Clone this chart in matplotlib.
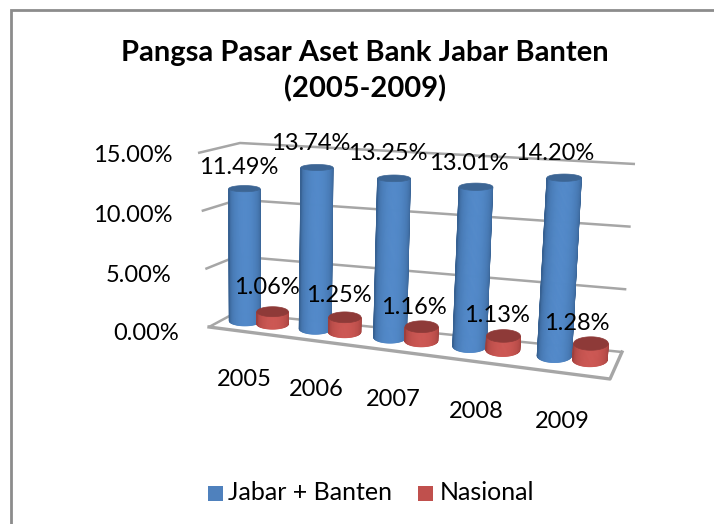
import numpy as np
import matplotlib
matplotlib.use("Agg")
import matplotlib.pyplot as plt
from matplotlib.patches import Polygon, Rectangle

years = ["2005", "2006", "2007", "2008", "2009"]
jabar_banten = [11.49, 13.74, 13.25, 13.01, 14.20]
nasional = [1.06, 1.25, 1.16, 1.13, 1.28]
value_ticks = [0, 5, 10, 15]
title_lines = "Pangsa Pasar Aset Bank Jabar Banten\n(2005-2009)"
series_names = ["Jabar + Banten", "Nasional"]

plt.rcParams['font.family'] = ['Lato', 'DejaVu Sans']
W, H = 714, 524
fig = plt.figure(figsize=(W/100, H/100), dpi=100)
ax = fig.add_axes([0, 0, 1, 1])
ax.set_xlim(0, W); ax.set_ylim(H, 0); ax.axis('off')

# corners of the 3D box in picture coordinates
C = {(0,0,0):(209,327),(1,0,0):(610,379),(0,1,0):(235,313),(1,1,0):(622,352),
     (0,0,1):(198,153),(1,0,1):(622,183),(0,1,1):(240,143),(1,1,1):(635,164)}
C = {k:np.array(v,float) for k,v in C.items()}
G = 0.17
def proj(u, w, v):
    s = u/(1+G*(1-u))
    t = v/15.0
    out = 0
    for (a,b,c),p in C.items():
        out = out + p*(s if a else 1-s)*(w if b else 1-w)*(t if c else 1-t)
    return out

GRID = '#a6a6a6'
for v in value_ticks:
    pts = np.array([proj(0,0,v),proj(0,1,v),proj(1,1,v)])
    ax.plot(pts[:,0],pts[:,1],color=GRID,lw=1.8,solid_capstyle='butt',zorder=1)
pts = np.array([proj(0,0,0),proj(1,0,0),proj(1,1,0)])
ax.plot(pts[:,0],pts[:,1],color=GRID,lw=2.4,zorder=1)

def mix(a,b,f):
    a=np.array(matplotlib.colors.to_rgb(a));b=np.array(matplotlib.colors.to_rgb(b))
    return tuple(a+(b-a)*f)

def cylinder(uc, wc, val, edge, light, cap, z):
    rx = 15.5+2.0*uc
    sc = 0.88+0.42*uc
    ry0 = sc*5.5
    ry1 = sc*(5.5-0.18*val)
    c0 = proj(uc,wc,0); c1 = proj(uc,wc,val)
    th = np.linspace(0,np.pi,49)
    for i in range(len(th)-1):
        a,b = th[i],th[i+1]
        f = np.sin((a+b)/2)**0.9
        quad = [c0+[rx*np.cos(a),ry0*np.sin(a)],c0+[rx*np.cos(b),ry0*np.sin(b)],
                c1+[rx*np.cos(b),ry1*np.sin(b)],c1+[rx*np.cos(a),ry1*np.sin(a)]]
        col = mix(edge,light,f)
        ax.add_patch(Polygon(quad,closed=True,fc=col,ec=col,lw=0.6,zorder=z))
    t2 = np.linspace(0,2*np.pi,73)
    ax.add_patch(Polygon(np.c_[c1[0]+rx*np.cos(t2),c1[1]+ry1*np.sin(t2)],closed=True,fc=cap,ec=cap,lw=0.5,zorder=z+0.1))

OFF=0.040; WC=0.60
for i in range(5):
    uc=(i+0.5)/5
    cylinder(uc-OFF,WC,jabar_banten[i],'#365f8f','#5289c9','#3c6594',2+i*2)
    cylinder(uc+OFF,WC,nasional[i],'#9c3e3b','#cc5753','#8e3a38',3+i*2)

FS=17
jb_pos=[(239,168),(311,144),(388,154),(469,164),(555,154)]
na_pos=[(267,288),(339,296),(414,307),(497,315),(577,324)]
for (x,y),v in zip(jb_pos,jabar_banten):
    ax.text(x,y,f"{v:.2f}%",ha='center',va='center',fontsize=FS,color='black',zorder=30)
for (x,y),v in zip(na_pos,nasional):
    ax.text(x,y,f"{v:.2f}%",ha='center',va='center',fontsize=FS,color='black',zorder=30)
tick_pos=[(146,333),(139,275),(133,216),(133,156)]
for (x,y),v in zip(tick_pos,value_ticks):
    ax.text(x,y,f"{v:.2f}%",ha='center',va='center',fontsize=FS,color='black',zorder=30)
year_pos=[(244,380),(316,390),(393,399),(476,411),(562,422)]
for (x,y),t in zip(year_pos,years):
    ax.text(x,y,t,ha='center',va='center',fontsize=FS,color='black',zorder=30)

ax.text(365,71,title_lines,ha='center',va='center',fontsize=21,fontweight='bold',color='black',linespacing=1.42,zorder=30)

ax.add_patch(Rectangle((208,486),15,15,fc='#4f81bd',ec='none',zorder=30))
ax.text(228,493,series_names[0],ha='left',va='center',fontsize=18,zorder=30)
ax.add_patch(Rectangle((418,486),15,15,fc='#c0504d',ec='none',zorder=30))
ax.text(440,493,series_names[1],ha='left',va='center',fontsize=18,zorder=30)

ax.plot([11,11,714],[524,10,10],color='#8c8c8c',lw=2.0,solid_joinstyle='miter',zorder=40)
fig.savefig('out.png',dpi=100,facecolor='white')
